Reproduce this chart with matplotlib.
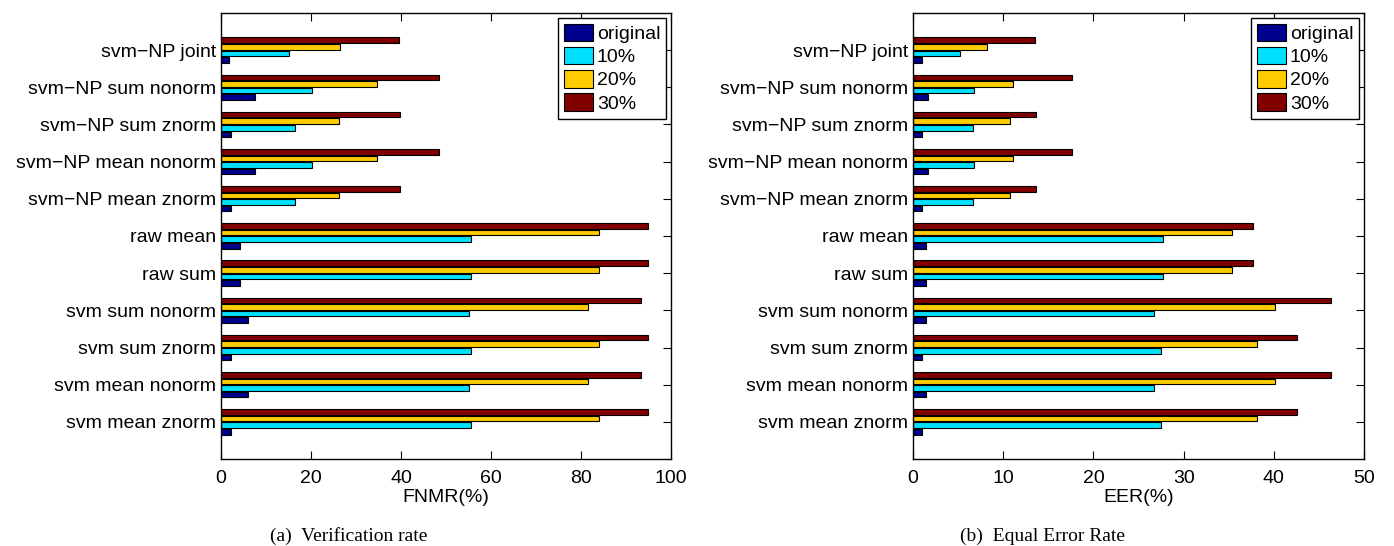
#!/usr/bin/env python3
# -*- coding: utf-8 -*-

import matplotlib
matplotlib.use('Agg')
import matplotlib.pyplot as plt
import numpy as np

plt.rcParams['font.family'] = ['Liberation Sans', 'DejaVu Sans']

# categories, bottom to top
categories = ['svm mean znorm', 'svm mean nonorm', 'svm sum znorm', 'svm sum nonorm',
              'raw sum', 'raw mean', 'svm\u2212NP mean znorm', 'svm\u2212NP mean nonorm',
              'svm\u2212NP sum znorm', 'svm\u2212NP sum nonorm', 'svm\u2212NP joint']
series = ['original', '10%', '20%', '30%']

# FNMR(%) per series, same order as categories
fnmr_original = [2.2, 6.0, 2.2, 6.0, 4.2, 4.2, 2.2, 7.6, 2.2, 7.6, 1.9]
fnmr_10 = [55.5, 55.1, 55.5, 55.1, 55.5, 55.5, 16.4, 20.2, 16.4, 20.2, 15.1]
fnmr_20 = [84.0, 81.6, 84.0, 81.6, 84.0, 84.0, 26.3, 34.6, 26.3, 34.6, 26.5]
fnmr_30 = [94.8, 93.3, 94.8, 93.3, 94.8, 94.8, 39.8, 48.4, 39.8, 48.4, 39.5]

# EER(%)
eer_original = [1.0, 1.45, 1.0, 1.45, 1.4, 1.4, 1.0, 1.7, 1.0, 1.7, 0.95]
eer_10 = [27.5, 26.7, 27.5, 26.7, 27.7, 27.7, 6.7, 6.8, 6.7, 6.8, 5.2]
eer_20 = [38.1, 40.1, 38.1, 40.1, 35.4, 35.4, 10.7, 11.1, 10.7, 11.1, 8.2]
eer_30 = [42.6, 46.3, 42.6, 46.3, 37.7, 37.7, 13.6, 17.6, 13.6, 17.6, 13.5]

colors = ['#00008F', '#00E0FF', '#FFCC00', '#800000']


def draw(ax, data, xmax, step, xlabel):
    y = np.arange(1, len(categories) + 1)
    pitch = 0.177
    for i, vals in enumerate(data):
        ax.barh(y + (i - 1.5) * pitch, vals, height=0.15, color=colors[i],
                edgecolor='black', linewidth=0.8, label=series[i])
    ax.set_ylim(0, 12)
    ax.set_xlim(0, xmax)
    ax.set_yticks(y)
    ax.set_yticklabels(categories)
    ax.set_xticks(np.arange(0, xmax + 1, step))
    ax.tick_params(direction='in', top=True, right=True, length=6, labelsize=14, width=0.8)
    ax.tick_params(axis='x', pad=8)
    ax.set_xlabel(xlabel, fontsize=14, labelpad=1)
    for s in ax.spines.values():
        s.set_linewidth(1.0)
    leg = ax.legend(loc='upper right', fontsize=14, fancybox=False, framealpha=1,
                    edgecolor='black', handlelength=1.5, handleheight=1.0,
                    handletextpad=0.2, labelspacing=0.2, borderpad=0.3,
                    borderaxespad=0.25)
    leg.get_frame().set_linewidth(1.0)


fig = plt.figure(figsize=(13.94, 5.46), dpi=100)
ax1 = fig.add_axes([0.1585, 0.1593, 0.3228, 0.817])
ax2 = fig.add_axes([0.655, 0.1593, 0.3235, 0.817])

draw(ax1, [fnmr_original, fnmr_10, fnmr_20, fnmr_30], 100, 20, 'FNMR(%)')
draw(ax2, [eer_original, eer_10, eer_20, eer_30], 50, 10, 'EER(%)')

fig.text(349 / 1394, 1 - 536 / 546, '(a)  Verification rate', ha='center', va='center',
         fontsize=14, family='Liberation Serif')
fig.text(1042 / 1394, 1 - 536 / 546, '(b)  Equal Error Rate', ha='center', va='center',
         fontsize=14, family='Liberation Serif')

fig.savefig('out.png', dpi=100)
